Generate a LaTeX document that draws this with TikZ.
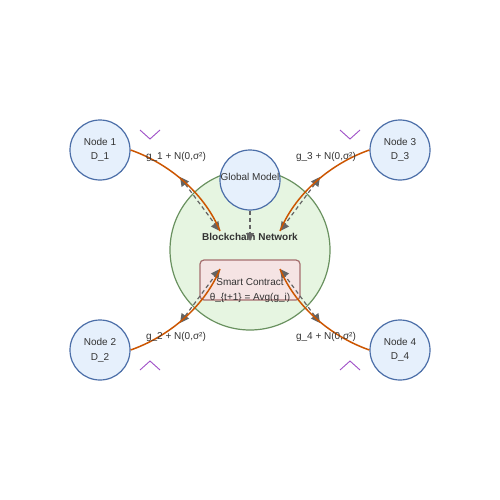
\documentclass[tikz,border=0pt]{standalone}
\usepackage{fontspec}
\setmainfont{Liberation Sans}
\usetikzlibrary{arrows.meta}
\definecolor{nodefill}{RGB}{230,240,252}
\definecolor{nodeline}{RGB}{75,110,168}
\definecolor{netfill}{RGB}{230,245,225}
\definecolor{netline}{RGB}{105,145,95}
\definecolor{scfill}{RGB}{245,228,228}
\definecolor{scline}{RGB}{165,110,110}
\definecolor{upd}{RGB}{204,85,0}
\definecolor{chev}{RGB}{160,80,200}
\definecolor{dash}{RGB}{100,100,100}
\definecolor{txt}{RGB}{51,51,51}
\begin{document}
\begin{tikzpicture}[x=1pt,y=-1pt,
  font=\fontsize{10}{12}\selectfont, text=txt,
  client/.style={circle,draw=nodeline,fill=nodefill,line width=1.2pt,minimum size=60pt,inner sep=0pt,align=center},
  updline/.style={draw=upd,line width=1.5pt},
  flow/.style={draw=dash,line width=1.2pt,dashed,dash pattern=on 4pt off 3pt,{Triangle[length=9pt,width=9pt]}-{Triangle[length=9pt,width=9pt]}},
  chevron/.style={draw=chev,line width=0.9pt},
  lbl/.style={inner sep=0pt}]
\useasboundingbox (0,0) rectangle (500,500);
\fill[white] (0,0) rectangle (500,500);
% blockchain network
\node[circle,draw=netline,fill=netfill,line width=1.2pt,minimum size=160pt,inner sep=0pt] (net) at (250,250) {};
\node[lbl,font=\fontsize{10}{12}\selectfont\bfseries] (netlbl) at (250,237) {Blockchain Network};
% global model
\node[client] (gm) at (250,180) {};
\node[lbl] (gmlbl) at (250,177) {Global Model};
% smart contract
\node[draw=scline,fill=scfill,line width=1.2pt,rounded corners=4pt,minimum width=100pt,minimum height=40pt,inner sep=0pt] (sc) at (250,280) {};
\node[lbl] (sc1) at (250,282) {Smart Contract};
\node[lbl] (sc2) at (250,297.5) {θ\_\{t+1\} = Avg(g\_i)};
% clients
\node[client] (n1) at (100,150) {};
\node[client] (n2) at (100,350) {};
\node[client] (n3) at (400,150) {};
\node[client] (n4) at (400,350) {};
\node[lbl] (n1a) at (100,142) {Node 1};
\node[lbl] (n1b) at (100,157.5) {D\_1};
\node[lbl] (n2a) at (100,342) {Node 2};
\node[lbl] (n2b) at (100,357.5) {D\_2};
\node[lbl] (n3a) at (400,142) {Node 3};
\node[lbl] (n3b) at (400,157.5) {D\_3};
\node[lbl] (n4a) at (400,342) {Node 4};
\node[lbl] (n4b) at (400,357.5) {D\_4};
% coordinates
\coordinate (a1) at (220,231);
\coordinate (a3) at (280,231);
\coordinate (a2) at (220,269);
\coordinate (a4) at (280,269);
\coordinate (b1) at (180,177);
\coordinate (b3) at (320,177);
\coordinate (b2) at (180,323);
\coordinate (b4) at (320,323);
\coordinate (gmb) at (250,241);
% dashed flows
\draw[flow] (b1) -- (a1);
\draw[flow] (b3) -- (a3);
\draw[flow] (b2) -- (a2);
\draw[flow] (b4) -- (a4);
\draw[draw=dash,line width=1.2pt,dashed,dash pattern=on 4pt off 3pt,-{Triangle[length=8pt,width=8pt]}] (gm.south) -- (gmb);
% update curves
\draw[updline] (n1.east) .. controls (165,162) and (203,190) .. (a1);
\draw[updline] (n3.west) .. controls (335,162) and (297,190) .. (a3);
\draw[updline] (n2.east) .. controls (165,338) and (203,310) .. (a2);
\draw[updline] (n4.west) .. controls (335,338) and (297,310) .. (a4);
% labels
\node[lbl] (l1) at (176,157) {g\_1 + N(0,σ²)};
\node[lbl] (l3) at (326,157) {g\_3 + N(0,σ²)};
\node[lbl] (l2) at (176,337) {g\_2 + N(0,σ²)};
\node[lbl] (l4) at (326,337) {g\_4 + N(0,σ²)};
% chevrons
\draw[chevron] (140,130) -- (150,139) -- (160,130);
\draw[chevron] (340,130) -- (350,139) -- (360,130);
\draw[chevron] (140,370) -- (150,361) -- (160,370);
\draw[chevron] (340,370) -- (350,361) -- (360,370);
\end{tikzpicture}
\end{document}
